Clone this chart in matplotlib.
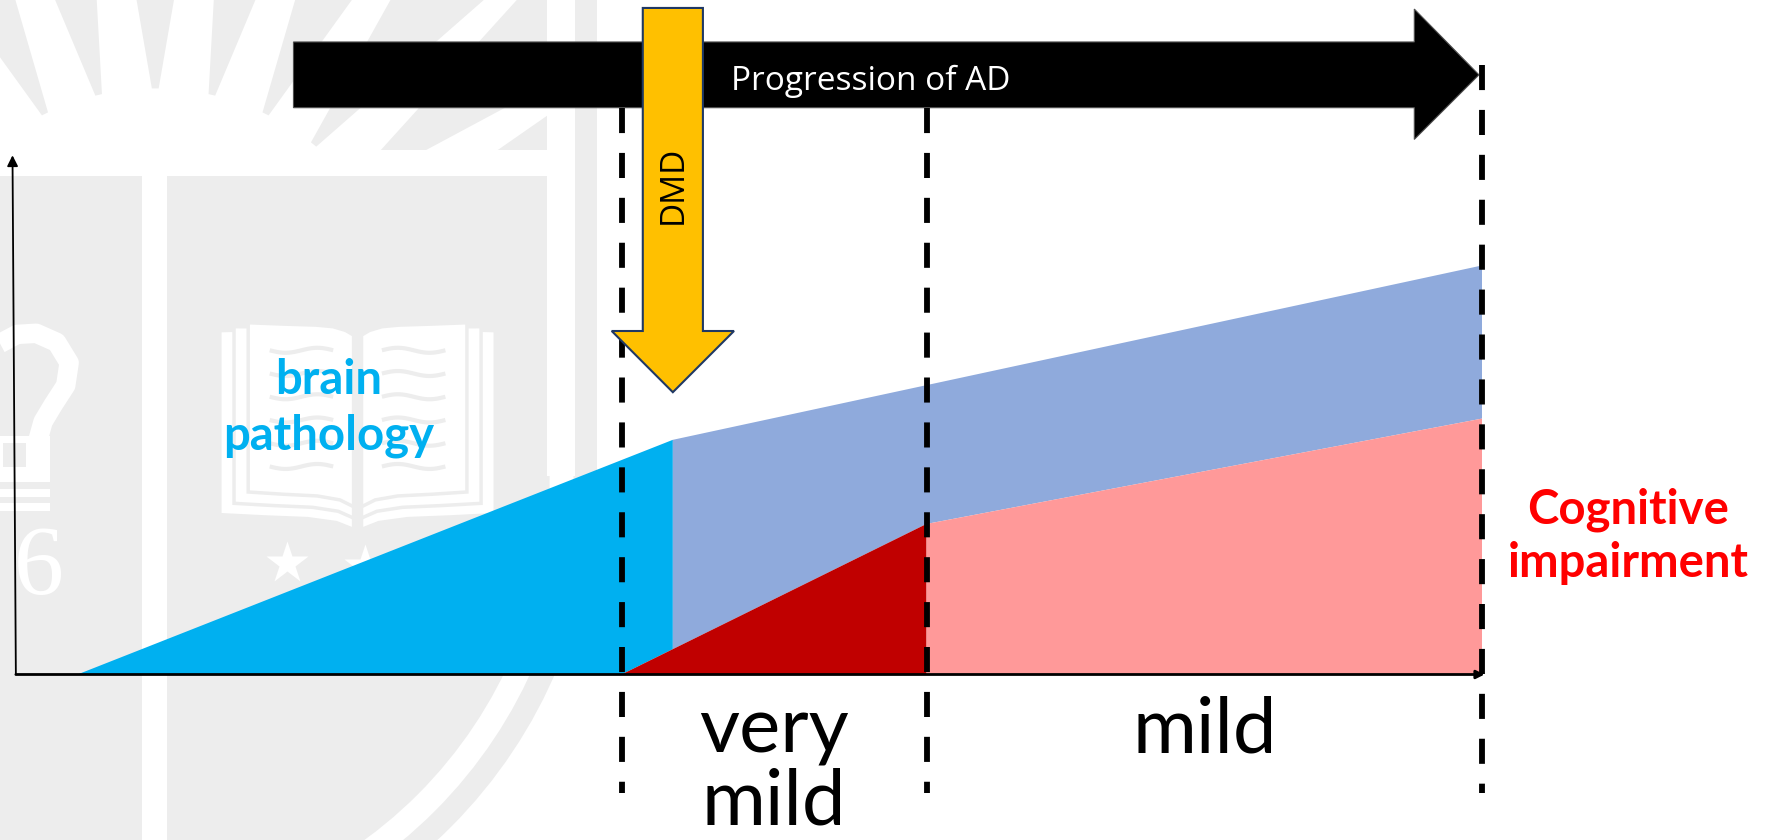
import numpy as np
import matplotlib.pyplot as plt
from matplotlib.patches import Polygon, Rectangle, Circle

plt.rcParams['font.family'] = ['Lato', 'DejaVu Sans']

# ── Disease course: time 0..1 along x, level 0..1 up y ─────────────────────────
stage_bounds = [0.413, 0.621, 1.0]
stage_labels = ["very\nmild", "mild"]
pathology_t = [0.042, 0.448, 1.0]
pathology_level = [0.0, 0.452, 0.788]
cognition_t = [0.413, 0.621, 1.0]
cognition_level = [0.0, 0.290, 0.493]
dmd_t = 0.448

C_PATH_EARLY = '#00b0f0'
C_PATH_LATE = '#8faadc'
C_COG_EARLY = '#c00000'
C_COG_LATE = '#ff9999'
C_DMD = '#ffc000'
C_SEAL = '#ededed'

W, H = 1568, 741          # canvas units used for the watermark
fig = plt.figure(figsize=(17.77, 8.4), dpi=100)

# ── Watermark seal ─────────────────────────────────────────────────────────────
bg = fig.add_axes([0, 0, 1, 1])
bg.set_xlim(0, W)
bg.set_ylim(H, 0)
bg.axis('off')


def seal_rect(x0, y0, x1, y1, color=C_SEAL):
    bg.add_patch(Rectangle((x0, y0), x1 - x0, y1 - y0, color=color, lw=0))


# sun rays
ray_clip = Rectangle((0, 0), 483, 132, transform=bg.transData)
c = np.array([137.0, 300.0])
for a in np.arange(12, 150, 13):
    rad = np.radians(a)
    d = np.array([np.cos(rad), -np.sin(rad)])
    n = np.array([np.sin(rad), np.cos(rad)])
    r0, r1 = 222, 700
    h0, h1 = 3, 3 + 0.173 * (r1 - r0)
    pts = [c + d * r0 + n * h0, c + d * r1 + n * h1,
           c + d * r1 - n * h1, c + d * r0 - n * h0]
    p = Polygon(pts, color=C_SEAL, lw=0)
    bg.add_patch(p)
    p.set_clip_path(ray_clip)

# round lower part with its ring
low_clip = Rectangle((0, 420), 527, H - 420, transform=bg.transData)
for r, col in [(438, C_SEAL), (418, 'white'), (397, C_SEAL)]:
    circ = Circle((88, 420), r, color=col, lw=0)
    bg.add_patch(circ)
    circ.set_clip_path(low_clip)
seal_rect(0, 155, 483, 421)
seal_rect(507, 0, 527, 421)
seal_rect(125, 155, 147, H, color='white')

# open book
top = [(219, 284.7), (250, 285.9), (279, 286.8), (294, 288.2), (305, 291.5), (312, 295.6)]
bottom = [(312, 447), (300, 441), (280, 437.5), (250, 436), (219, 434)]
for side in (1, -1):
    for i in (2, 1, 0):
        pts = []
        for x, y in top:
            f = (312 - x) / 93
            pts.append((x - 12.5 * i * f, y + 3.5 * i * f))
        for x, y in bottom:
            f = (312 - x) / 93
            pts.append((x - 12.5 * i * f, y + 10 * i))
        if side == -1:
            pts = [(631 - x, y) for x, y in pts]
        bg.add_patch(Polygon(pts, facecolor='white', edgecolor=C_SEAL, lw=2.5))
    for y0 in [309, 329.5, 350, 370.5, 391, 411.5]:
        xs = np.linspace(238, 294, 40)
        ys = y0 + 2.2 * np.sin((xs - 238) / 56 * 2 * np.pi)
        if side == -1:
            xs = 631 - xs
        bg.plot(xs, ys, color=C_SEAL, lw=3, solid_capstyle='butt')

bg.plot([253, 322], [497, 499], ls='none', marker='*', ms=32, color='white', mec='none')

# torch on the far left
bg.plot([0, 15, 32, 50, 61, 58, 47, 38, 33, 33],
        [303, 295, 294, 302, 320, 340, 357, 372, 390, 400],
        color='white', lw=14, solid_capstyle='butt', solid_joinstyle='round')
seal_rect(0, 385, 44, 425, color='white')
seal_rect(3, 391, 23, 412)
seal_rect(0, 431, 44, 438, color='white')
seal_rect(0, 444, 44, 451, color='white')
bg.text(56, 503, '6', ha='right', va='center', family='Liberation Serif',
        fontsize=72, color='white')

# ── Main diagram ──────────────────────────────────────────────────────────────
ax = fig.add_axes([14 / W, (H - 595) / H, 1294 / W, 458 / H])
ax.set_xlim(0, 1)
ax.set_ylim(0, 1)
ax.axis('off')
ax.patch.set_visible(False)

path_at_dmd = np.interp(dmd_t, pathology_t, pathology_level)
cog_at_dmd = np.interp(dmd_t, cognition_t, cognition_level)

regions = [
    ([(pathology_t[0], 0), (dmd_t, path_at_dmd), (dmd_t, cog_at_dmd),
      (cognition_t[0], 0)], C_PATH_EARLY),
    ([(dmd_t, path_at_dmd), (pathology_t[2], pathology_level[2]),
      (cognition_t[2], cognition_level[2]), (cognition_t[1], cognition_level[1]),
      (dmd_t, cog_at_dmd)], C_PATH_LATE),
    ([(cognition_t[0], 0), (cognition_t[1], cognition_level[1]),
      (cognition_t[1], 0)], C_COG_EARLY),
    ([(cognition_t[1], cognition_level[1]), (cognition_t[2], cognition_level[2]),
      (cognition_t[2], 0), (cognition_t[1], 0)], C_COG_LATE),
]
for pts, col in regions:
    ax.add_patch(Polygon(pts, facecolor=col, edgecolor='none', zorder=1))

# axes with arrow heads
ax.annotate('', xy=(-0.0023, 1.0), xytext=(0, 0), annotation_clip=False,
            arrowprops=dict(arrowstyle='-|>', lw=1.3, color='black',
                            mutation_scale=16, shrinkA=0, shrinkB=0), zorder=3)
ax.annotate('', xy=(1.0015, 0), xytext=(0, 0), annotation_clip=False,
            arrowprops=dict(arrowstyle='-|>', lw=2.0, color='black',
                            mutation_scale=12, shrinkA=0, shrinkB=0), zorder=3)

# stage boundaries
for b, top_lvl in zip(stage_bounds, [1.0917, 1.0917, 1.1747]):
    ax.plot([b, b], [top_lvl, -0.229], color='black', lw=4.2,
            dashes=(4.3, 3.4), clip_on=False, zorder=5)

for (lo, hi), label in zip(zip(stage_bounds[:-1], stage_bounds[1:]), stage_labels):
    ax.text((lo + hi) / 2, -0.04, label, ha='center', va='top', fontsize=56,
            linespacing=1.03, color='black', zorder=7)

# progression arrow
prog = [(0.1893, 1.0917), (0.9536, 1.0917), (0.9536, 1.0306), (0.9977, 1.155),
        (0.9536, 1.2817), (0.9536, 1.2183), (0.1893, 1.2183)]
ax.add_patch(Polygon(prog, facecolor='black', edgecolor='#505050', lw=0.8,
                     clip_on=False, zorder=4))
ax.text(0.5827, 1.143, 'Progression of AD', color='white', ha='center',
        va='center', fontsize=24, family='Open Sans', zorder=7)

# DMD arrow
bw, hw = 0.0205, 0.0417
dmd = [(dmd_t - bw, 1.2838), (dmd_t + bw, 1.2838), (dmd_t + bw, 0.6616),
       (dmd_t + hw, 0.6616), (dmd_t, 0.5437), (dmd_t - hw, 0.6616),
       (dmd_t - bw, 0.6616)]
ax.add_patch(Polygon(dmd, facecolor=C_DMD, edgecolor='#1f3864', lw=1.5,
                     clip_on=False, zorder=6))
ax.text(dmd_t, 0.944, 'DMD', rotation=90, ha='center', va='center',
        fontsize=24, family='Open Sans', color='black', zorder=7)

ax.text(0.2133, 0.513, 'brain\npathology', color=C_PATH_EARLY, ha='center',
        va='center', fontsize=34, fontweight='bold', linespacing=1.3, zorder=7)
ax.text(1.0997, 0.2664, 'Cognitive\nimpairment', color='#ff0000', ha='center',
        va='center', fontsize=34, fontweight='bold', linespacing=1.25, zorder=7)

fig.savefig('out.png', dpi=100)
